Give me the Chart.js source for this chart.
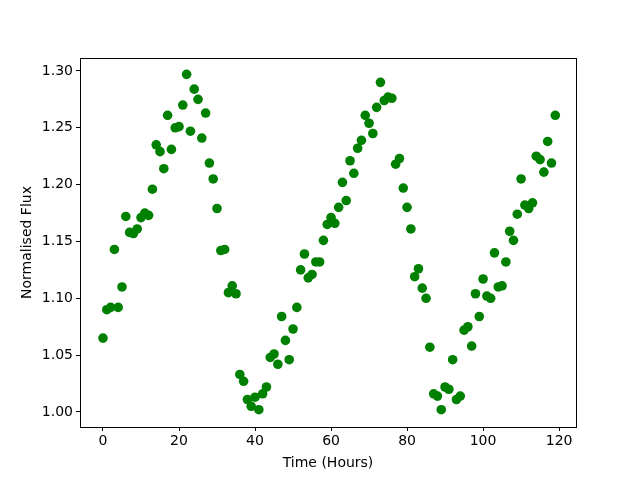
<!DOCTYPE html>
<html>
<head>
<meta charset="utf-8">
<title>Normalised Flux</title>
<script src="https://cdn.jsdelivr.net/npm/chart.js@4"></script>
<style>
  html, body { margin: 0; padding: 0; background: #fff; }
  #wrap { width: 640px; height: 480px; }
</style>
</head>
<body>
<div id="wrap"><canvas id="chart-flux" width="640" height="480"></canvas></div>
<script>
const hours = [];
for (let h = 0; h < 120; h++) hours.push(h);

const flux = [
  1.065, 1.090, 1.092, 1.143, 1.092, 1.110, 1.172, 1.158, 1.157, 1.161,
  1.171, 1.175, 1.173, 1.196, 1.235, 1.229, 1.214, 1.261, 1.231, 1.250,
  1.251, 1.270, 1.297, 1.247, 1.284, 1.275, 1.241, 1.263, 1.219, 1.205,
  1.179, 1.142, 1.143, 1.105, 1.111, 1.104, 1.033, 1.027, 1.011, 1.005,
  1.013, 1.002, 1.016, 1.022, 1.048, 1.051, 1.042, 1.084, 1.063, 1.046,
  1.073, 1.092, 1.125, 1.139, 1.118, 1.121, 1.132, 1.132, 1.151, 1.165,
  1.171, 1.166, 1.180, 1.202, 1.186, 1.221, 1.210, 1.232, 1.239, 1.261,
  1.254, 1.245, 1.268, 1.290, 1.274, 1.277, 1.276, 1.218, 1.223, 1.197,
  1.180, 1.161, 1.119, 1.126, 1.109, 1.100, 1.057, 1.016, 1.014, 1.002,
  1.022, 1.020, 1.046, 1.011, 1.014, 1.072, 1.075, 1.058, 1.104, 1.084,
  1.117, 1.102, 1.100, 1.140, 1.110, 1.111, 1.132, 1.159, 1.151, 1.174,
  1.205, 1.182, 1.179, 1.184, 1.225, 1.222, 1.211, 1.238, 1.219, 1.261
];

const xTicks = [0, 20, 40, 60, 80, 100, 120];
const yTicks = [1.00, 1.05, 1.10, 1.15, 1.20, 1.25, 1.30];

Chart.defaults.font.family = '"DejaVu Sans", sans-serif';
Chart.defaults.font.size = 14;
Chart.defaults.color = '#000';

// Marco completo alrededor del area del grafico (estilo matplotlib)
const frameBox = {
  id: 'frameBox',
  afterDraw(chart) {
    const { ctx, chartArea: a } = chart;
    ctx.save();
    ctx.strokeStyle = '#000';
    ctx.lineWidth = 1;
    ctx.strokeRect(Math.round(a.left) + 0.5, Math.round(a.top) + 0.5,
      Math.round(a.right - a.left), Math.round(a.bottom - a.top));
    ctx.restore();
  }
};

const ctx = document.getElementById('chart-flux');
new Chart(ctx, {
  type: 'scatter',
  data: {
    datasets: [{
      label: 'Flux',
      data: hours.map((h, i) => ({ x: h, y: flux[i] })),
      backgroundColor: '#008000',
      borderColor: '#008000',
      borderWidth: 0,
      pointRadius: 4.8,
      pointHoverRadius: 4.8
    }]
  },
  options: {
    responsive: false,
    animation: false,
    layout: { padding: { left: 0, top: 58, right: 64, bottom: 0 } },
    plugins: {
      legend: { display: false },
      tooltip: { enabled: false }
    },
    scales: {
      x: {
        type: 'linear',
        min: -6.05,
        max: 124.45,
        afterFit: s => { s.height = 53; },
        afterBuildTicks: axis => { axis.ticks = xTicks.map(v => ({ value: v })); },
        grid: { display: true, drawOnChartArea: false, drawTicks: true, tickLength: 4, color: '#000' },
        border: { display: false },
        ticks: { padding: 2, callback: v => String(v) },
        title: { display: true, text: 'Time (Hours)', padding: { top: 0, bottom: 8 } }
      },
      y: {
        type: 'linear',
        min: 0.9868,
        max: 1.3114,
        afterFit: s => { s.width = 80; },
        afterBuildTicks: axis => { axis.ticks = yTicks.map(v => ({ value: v })); },
        grid: { display: true, drawOnChartArea: false, drawTicks: true, tickLength: 4, color: '#000' },
        border: { display: false },
        ticks: { padding: 3, callback: v => v.toFixed(2) },
        title: { display: true, text: 'Normalised Flux', padding: { top: 19, bottom: 0 } }
      }
    }
  },
  plugins: [frameBox]
});
</script>
</body>
</html>
